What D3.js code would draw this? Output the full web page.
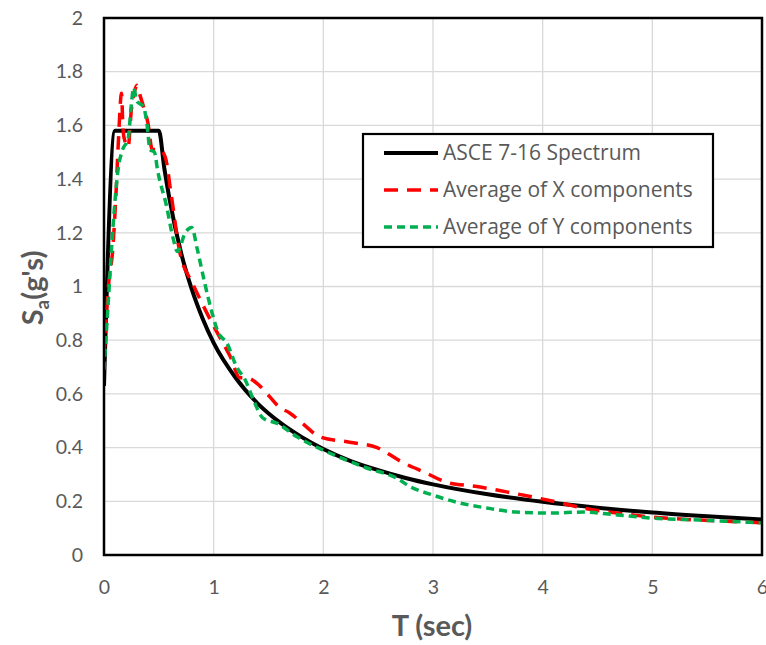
<!DOCTYPE html>
<html><head><meta charset="utf-8">
<script src="https://cdn.jsdelivr.net/npm/d3@7"></script>
<style>body{margin:0;background:#fff;} svg{display:block;}</style>
</head><body>
<svg id="chart" width="766" height="645"></svg>
<script>
// ---- data ----
const seriesNames = ["ASCE 7-16 Spectrum", "Average of X components", "Average of Y components"];
const xTicks = [0, 1, 2, 3, 4, 5, 6];
const yTicks = [0, 0.2, 0.4, 0.6, 0.8, 1, 1.2, 1.4, 1.6, 1.8, 2];

const asceT  = [0, 0.1, 0.5, 0.55, 0.6, 0.7, 0.8, 0.9, 1.0, 1.2, 1.4, 1.6, 1.8, 2.0, 2.25, 2.5, 2.75, 3.0, 3.5, 4.0, 4.5, 5.0, 5.5, 6.0];
const asceSa = [0.63, 1.58, 1.58, 1.44, 1.32, 1.13, 0.99, 0.88, 0.79, 0.66, 0.565, 0.495, 0.44, 0.395, 0.35, 0.316, 0.287, 0.263, 0.226, 0.198, 0.176, 0.158, 0.144, 0.132];

const xT  = [0, 0.04, 0.08, 0.11, 0.13, 0.16, 0.17, 0.18, 0.22, 0.25, 0.28, 0.30, 0.33, 0.36, 0.40, 0.44, 0.51, 0.56, 0.61, 0.69, 0.81, 0.94, 1.03, 1.15, 1.24, 1.30, 1.42, 1.51, 1.60, 1.69, 1.81, 1.97, 2.24, 2.49, 2.58, 2.70, 2.94, 3.13, 3.40, 3.67, 3.91, 4.13, 4.37, 4.68, 4.98, 5.43, 5.83, 6.0];
const xSa = [0.74, 1.00, 1.14, 1.35, 1.53, 1.72, 1.62, 1.56, 1.52, 1.66, 1.73, 1.75, 1.71, 1.67, 1.61, 1.51, 1.51, 1.48, 1.35, 1.13, 1.01, 0.90, 0.83, 0.74, 0.66, 0.66, 0.63, 0.59, 0.55, 0.53, 0.49, 0.44, 0.42, 0.40, 0.38, 0.35, 0.305, 0.27, 0.255, 0.235, 0.216, 0.197, 0.175, 0.156, 0.142, 0.13, 0.123, 0.12];

const yT  = [0, 0.04, 0.08, 0.13, 0.17, 0.22, 0.25, 0.27, 0.30, 0.33, 0.36, 0.39, 0.42, 0.46, 0.49, 0.57, 0.63, 0.67, 0.74, 0.80, 0.85, 0.92, 0.98, 1.04, 1.12, 1.21, 1.29, 1.36, 1.45, 1.58, 1.76, 2.0, 2.2, 2.39, 2.67, 2.79, 3.0, 3.21, 3.49, 3.76, 4.07, 4.37, 4.68, 4.98, 5.43, 6.0];
const ySa = [0.69, 0.95, 1.21, 1.44, 1.51, 1.55, 1.68, 1.74, 1.69, 1.68, 1.67, 1.61, 1.51, 1.50, 1.43, 1.30, 1.18, 1.13, 1.20, 1.22, 1.14, 1.01, 0.91, 0.83, 0.79, 0.70, 0.65, 0.58, 0.51, 0.49, 0.44, 0.39, 0.355, 0.325, 0.286, 0.255, 0.223, 0.197, 0.175, 0.16, 0.156, 0.16, 0.149, 0.138, 0.13, 0.12];

// ---- layout ----
const svg = d3.select("#chart");
const L = 104, R = 762, T = 18, B = 555;
const x = d3.scaleLinear().domain([0, 6]).range([L, R]);
const y = d3.scaleLinear().domain([0, 2]).range([B, T]);
const font = "Lato, 'Open Sans', sans-serif";
const grey = "#595959";

// gridlines
svg.append("g").selectAll("line.v").data(xTicks).join("line")
  .attr("x1", d => x(d)).attr("x2", d => x(d)).attr("y1", T).attr("y2", B)
  .attr("stroke", "#d9d9d9").attr("stroke-width", 1.3);
svg.append("g").selectAll("line.h").data(yTicks).join("line")
  .attr("x1", L).attr("x2", R).attr("y1", d => y(d)).attr("y2", d => y(d))
  .attr("stroke", "#d9d9d9").attr("stroke-width", 1.3);

// axes (labels only)
const xAxis = svg.append("g").attr("transform", `translate(0,${B})`)
  .call(d3.axisBottom(x).tickValues(xTicks).tickSize(0).tickPadding(25).tickFormat(d3.format("")));
const yAxis = svg.append("g").attr("transform", `translate(${L},0)`)
  .call(d3.axisLeft(y).tickValues(yTicks).tickSize(0).tickPadding(21).tickFormat(d => String(+d.toFixed(1))));
[xAxis, yAxis].forEach(a => {
  a.select(".domain").remove();
  a.selectAll("text").attr("fill", grey).style("font-family", font).style("font-size", "19.5px");
});

// lines
const line = d3.line().x(d => x(d[0])).y(d => y(d[1])).curve(d3.curveMonotoneX);
const asce = asceT.map((t, i) => [t, asceSa[i]]);
const xs = xT.map((t, i) => [t, xSa[i]]);
const ys = yT.map((t, i) => [t, ySa[i]]);

const clip = svg.append("clipPath").attr("id", "clip").append("rect")
  .attr("x", L).attr("y", T).attr("width", R - L).attr("height", B - T);
const plot = svg.append("g").attr("clip-path", "url(#clip)");

const styles = [
  {stroke: "#000000", width: 4, dash: null},
  {stroke: "#ff0000", width: 3.5, dash: "14,9"},
  {stroke: "#00b050", width: 3.5, dash: "8,5"}
];
plot.append("path").datum(asce).attr("d", line).attr("fill", "none")
  .attr("stroke", styles[0].stroke).attr("stroke-width", styles[0].width).attr("stroke-linejoin", "round");
plot.append("path").datum(xs).attr("d", line).attr("fill", "none")
  .attr("stroke", styles[1].stroke).attr("stroke-width", styles[1].width).attr("stroke-dasharray", styles[1].dash);
plot.append("path").datum(ys).attr("d", line).attr("fill", "none")
  .attr("stroke", styles[2].stroke).attr("stroke-width", styles[2].width).attr("stroke-dasharray", styles[2].dash);

// plot border
svg.append("rect").attr("x", L).attr("y", T).attr("width", R - L).attr("height", B - T)
  .attr("fill", "none").attr("stroke", "#000").attr("stroke-width", 2.5);

// legend
const lg = svg.append("g");
lg.append("rect").attr("x", 363).attr("y", 134).attr("width", 350).attr("height", 113)
  .attr("fill", "#fff").attr("stroke", "#000").attr("stroke-width", 2.2);
seriesNames.forEach((name, i) => {
  const yy = 153 + i * 37;
  lg.append("line").attr("x1", 384).attr("x2", 438).attr("y1", yy).attr("y2", yy)
    .attr("stroke", styles[i].stroke).attr("stroke-width", styles[i].width)
    .attr("stroke-dasharray", styles[i].dash);
  lg.append("text").attr("x", 443).attr("y", yy).attr("dy", "0.35em")
    .attr("fill", grey).style("font-family", "'Open Sans', Lato, sans-serif").style("font-size", "21px").text(name);
});

// axis titles
svg.append("text").attr("x", 432).attr("y", 636).attr("text-anchor", "middle")
  .attr("fill", grey).style("font-family", font).style("font-size", "29px").style("font-weight", "bold")
  .text("T (sec)");
const yt = svg.append("text").attr("transform", "translate(43,288) rotate(-90)").attr("text-anchor", "middle")
  .attr("fill", grey).style("font-family", font).style("font-size", "29px").style("font-weight", "bold");
yt.append("tspan").text("S");
yt.append("tspan").attr("dy", 6).style("font-size", "19px").text("a");
yt.append("tspan").attr("dy", -6).text("(g's)");
</script>
</body></html>
